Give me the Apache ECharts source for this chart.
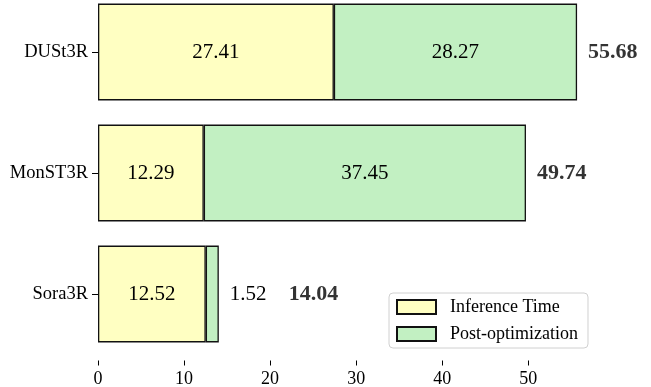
<!DOCTYPE html>
<html>
<head>
<meta charset="utf-8">
<script src="https://cdn.jsdelivr.net/npm/echarts@6/dist/echarts.min.js"></script>
<style>html,body{margin:0;padding:0;background:#fff;}#c{width:651px;height:387px;}</style>
</head>
<body>
<div id="c"></div>
<script>
const categories = ['DUSt3R', 'MonST3R', 'Sora3R'];
const inferenceTime = [27.41, 12.29, 12.52];
const postOptimization = [28.27, 37.45, 1.52];
const totals = [55.68, 49.74, 14.04];
const xTicks = [0, 10, 20, 30, 40, 50];

const FONT = "'Liberation Serif', 'DejaVu Serif', serif";
const chart = echarts.init(document.getElementById('c'));
const border = { borderColor: '#111', borderWidth: 1.3 };

chart.setOption({
  animation: false,
  textStyle: { fontFamily: FONT, color: '#000' },
  grid: { left: 98, width: 503, top: -8.5, height: 363, outerBoundsMode: 'none', containLabel: false },
  xAxis: {
    type: 'value', min: 0, max: 58.46, interval: 10, offset: 6,
    axisLine: { show: false },
    splitLine: { show: false },
    axisTick: { show: true, length: 5, lineStyle: { color: '#000', width: 1 }, customValues: xTicks },
    axisLabel: { fontSize: 18, fontFamily: FONT, color: '#000', margin: 10, customValues: xTicks }
  },
  yAxis: {
    type: 'category', data: categories, inverse: true,
    axisLine: { show: false },
    axisTick: { show: true, alignWithLabel: true, length: 6, lineStyle: { color: '#000', width: 1 } },
    axisLabel: { fontSize: 18.5, fontFamily: FONT, color: '#000', margin: 10 }
  },
  legend: {
    orient: 'vertical', left: 389, top: 293,
    data: [{ name: 'Inference Time', icon: 'rect' }, { name: 'Post-optimization', icon: 'rect' }],
    itemWidth: 39, itemHeight: 14, itemGap: 9,
    padding: [5, 10, 5, 7],
    backgroundColor: 'rgba(255,255,255,0.9)',
    borderColor: '#d0d0d0', borderWidth: 1, borderRadius: 4,
    textStyle: { fontSize: 18, fontFamily: FONT, color: '#000', padding: [0, 0, 0, 9] }
  },
  series: [
    {
      name: 'Inference Time', type: 'bar', stack: 'a', barCategoryGap: '20%',
      data: inferenceTime,
      itemStyle: Object.assign({ color: '#ffffc2' }, border),
      label: { show: true, position: 'inside', fontSize: 21, fontFamily: FONT, color: '#000',
               formatter: p => p.value.toFixed(2) }
    },
    {
      name: 'Post-optimization', type: 'bar', stack: 'a', barCategoryGap: '20%',
      data: postOptimization.map((v, i) => i === 2
        ? { value: v, label: { position: 'right', distance: 11 } }
        : v),
      itemStyle: Object.assign({ color: '#c2f0c2' }, border),
      label: { show: true, position: 'inside', fontSize: 21, fontFamily: FONT, color: '#000',
               formatter: p => p.value.toFixed(2) }
    },
    {
      name: 'Total', type: 'scatter', symbolSize: 0, silent: true,
      data: totals.map((v, i) => i === 2
        ? { value: [v, categories[i]], label: { distance: 70 } }
        : { value: [v, categories[i]] }),
      label: { show: true, position: 'right', distance: 11, fontSize: 22, fontWeight: 'bold',
               fontFamily: FONT, color: '#000', formatter: p => p.value[0].toFixed(2) }
    }
  ]
});
</script>
</body>
</html>
